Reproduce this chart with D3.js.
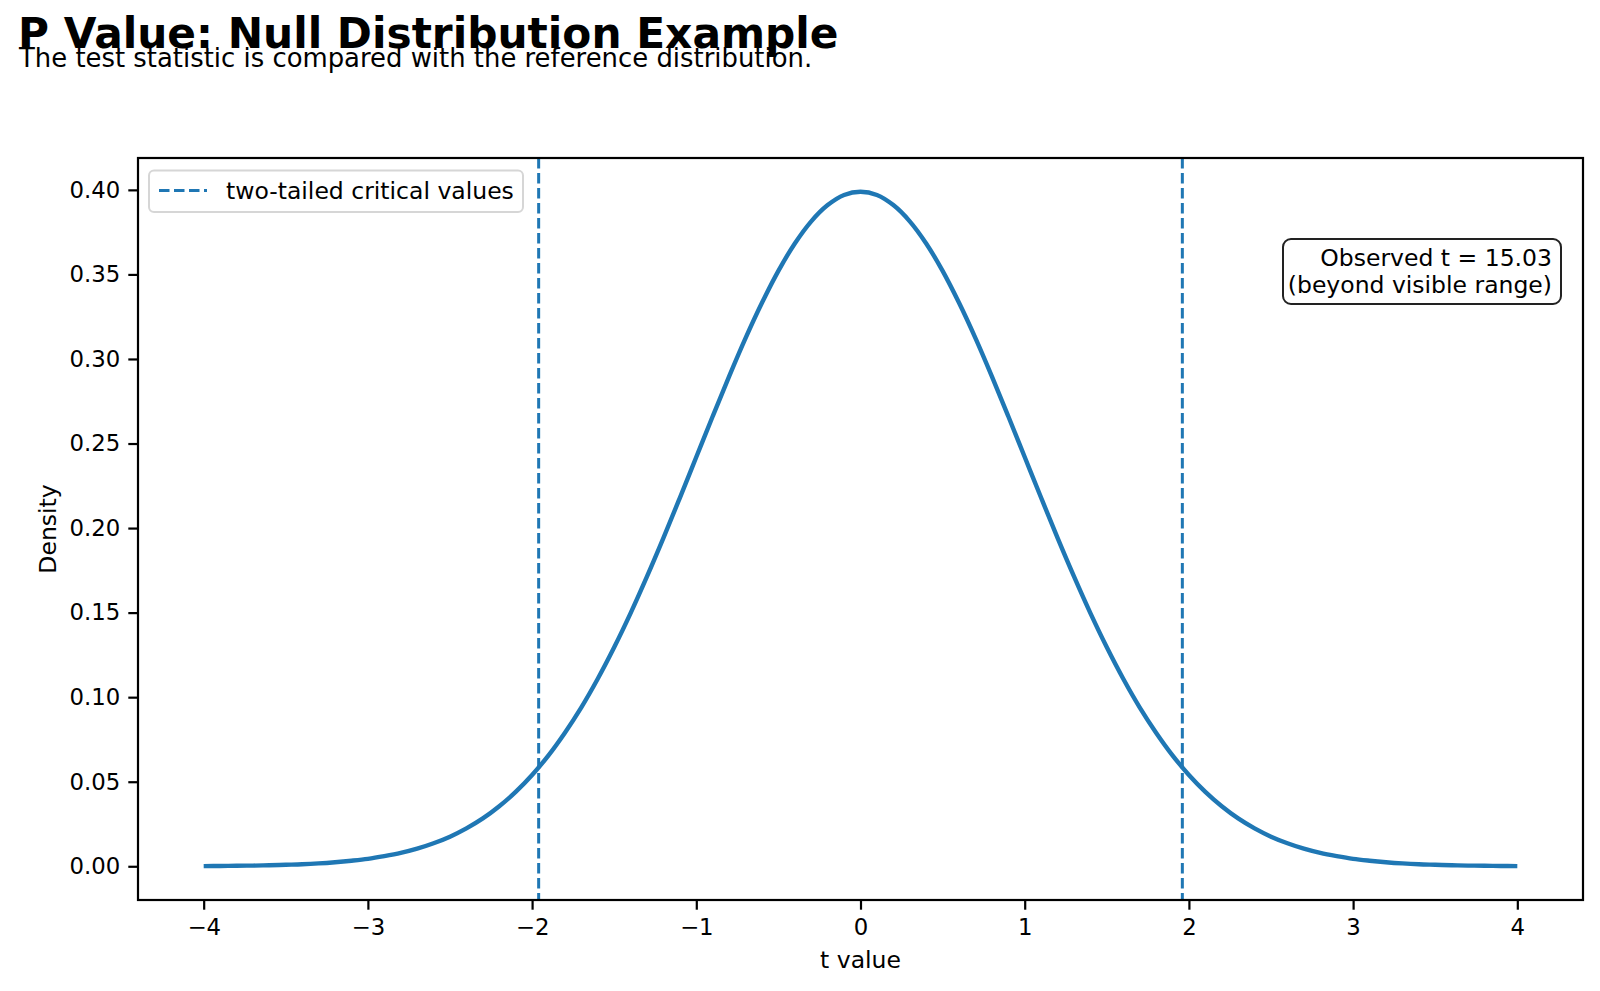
<!DOCTYPE html>
<html>
<head>
<meta charset="utf-8">
<script src="https://cdn.jsdelivr.net/npm/d3@7"></script>
<style>
  body { margin: 0; background: #fff; }
  text { font-family: "DejaVu Sans", sans-serif; fill: #000; }
</style>
</head>
<body>
<div class="chart"></div>
<script>
// t values along the x axis and the density read at each one
const tValues = [
  -4.0, -3.9, -3.8, -3.7, -3.6, -3.5, -3.4, -3.3, -3.2, -3.1,
  -3.0, -2.9, -2.8, -2.7, -2.6, -2.5, -2.4, -2.3, -2.2, -2.1,
  -2.0, -1.9, -1.8, -1.7, -1.6, -1.5, -1.4, -1.3, -1.2, -1.1,
  -1.0, -0.9, -0.8, -0.7, -0.6, -0.5, -0.4, -0.3, -0.2, -0.1,
  0.0, 0.1, 0.2, 0.3, 0.4, 0.5, 0.6, 0.7, 0.8, 0.9,
  1.0, 1.1, 1.2, 1.3, 1.4, 1.5, 1.6, 1.7, 1.8, 1.9,
  2.0, 2.1, 2.2, 2.3, 2.4, 2.5, 2.6, 2.7, 2.8, 2.9,
  3.0, 3.1, 3.2, 3.3, 3.4, 3.5, 3.6, 3.7, 3.8, 3.9, 4.0];
const densityValues = [
  0.0001, 0.0002, 0.0003, 0.0004, 0.0006, 0.0009, 0.0012, 0.0017, 0.0024, 0.0033,
  0.0044, 0.0060, 0.0079, 0.0104, 0.0136, 0.0175, 0.0224, 0.0283, 0.0355, 0.0440,
  0.0540, 0.0656, 0.0790, 0.0940, 0.1109, 0.1295, 0.1497, 0.1714, 0.1942, 0.2179,
  0.2420, 0.2661, 0.2897, 0.3123, 0.3332, 0.3521, 0.3683, 0.3814, 0.3910, 0.3970,
  0.3989, 0.3970, 0.3910, 0.3814, 0.3683, 0.3521, 0.3332, 0.3123, 0.2897, 0.2661,
  0.2420, 0.2179, 0.1942, 0.1714, 0.1497, 0.1295, 0.1109, 0.0940, 0.0790, 0.0656,
  0.0540, 0.0440, 0.0355, 0.0283, 0.0224, 0.0175, 0.0136, 0.0104, 0.0079, 0.0060,
  0.0044, 0.0033, 0.0024, 0.0017, 0.0012, 0.0009, 0.0006, 0.0004, 0.0003, 0.0002, 0.0001];
const criticalValues = [-1.96, 1.96];
const xTicks = [-4, -3, -2, -1, 0, 1, 2, 3, 4];
const yTicks = [0, 0.05, 0.10, 0.15, 0.20, 0.25, 0.30, 0.35, 0.40];
const observedLines = ["Observed t = 15.03", "(beyond visible range)"];
const legendLabel = "two-tailed critical values";

const curveData = tValues.map((t, i) => ({t: t, d: densityValues[i]}));

const svg_width = 1600;
const svg_height = 991;
const margin = {top: 158, right: 17, bottom: 91, left: 138};
const chart_width = svg_width - margin.left - margin.right;
const chart_height = svg_height - margin.top - margin.bottom;
const blue = '#1f77b4';
const tickSize = 22.8;
const labelSize = 23.5;

const svg = d3.select('.chart').append('svg')
  .attr('width', svg_width).attr('height', svg_height);

// title + subtitle
svg.append('text').attr('x', 18).attr('y', 48)
  .style('font-size', '42.3px').style('font-weight', 'bold')
  .text('P Value: Null Distribution Example');
svg.append('text').attr('x', 19).attr('y', 67)
  .style('font-size', '25.9px')
  .text('The test statistic is compared with the reference distribution.');

const g = svg.append('g').attr('transform', `translate(${margin.left},${margin.top})`);

// scales (matplotlib style 5% padding)
const xPad = (4 - (-4)) * 0.05;
const xScale = d3.scaleLinear().domain([-4 - xPad, 4 + xPad]).range([0, chart_width]);
const yMax = d3.max(densityValues);
const yPad = yMax * 0.05;
const yScale = d3.scaleLinear().domain([-yPad, yMax + yPad]).range([chart_height, 0]);

// curve
const line = d3.line().x(d => xScale(d.t)).y(d => yScale(d.d)).curve(d3.curveCatmullRom);
g.append('path').datum(curveData)
  .attr('d', line)
  .attr('fill', 'none').attr('stroke', blue).attr('stroke-width', 4.4)
  .attr('stroke-linecap', 'butt').attr('stroke-linejoin', 'round');

// critical value lines
g.selectAll('.crit').data(criticalValues).enter().append('line')
  .attr('class', 'crit')
  .attr('x1', d => xScale(d)).attr('x2', d => xScale(d))
  .attr('y1', 0).attr('y2', chart_height)
  .attr('stroke', blue).attr('stroke-width', 3)
  .attr('stroke-dasharray', '10.5,4.5');

// axes
const xAxis = d3.axisBottom(xScale).tickValues(xTicks)
  .tickFormat(d => d < 0 ? '\u2212' + Math.abs(d) : d)
  .tickSizeInner(9.7).tickSizeOuter(0).tickPadding(9);
const xAxisDraw = g.append('g').attr('transform', `translate(0,${chart_height})`).call(xAxis);
const yAxis = d3.axisLeft(yScale).tickValues(yTicks).tickFormat(d3.format('.2f'))
  .tickSizeInner(9.7).tickSizeOuter(0).tickPadding(8);
const yAxisDraw = g.append('g').call(yAxis);
[xAxisDraw, yAxisDraw].forEach(a => {
  a.select('.domain').remove();
  a.selectAll('line').attr('stroke', '#000').attr('stroke-width', 2.2);
  a.selectAll('text').style('font-size', tickSize + 'px').attr('fill', '#000')
    .style('font-family', '"DejaVu Sans", sans-serif');
});

// frame
g.append('rect').attr('width', chart_width).attr('height', chart_height)
  .attr('fill', 'none').attr('stroke', '#000').attr('stroke-width', 2.2);

// axis labels
svg.append('text').attr('x', margin.left + chart_width / 2).attr('y', 968)
  .attr('text-anchor', 'middle').style('font-size', labelSize + 'px').text('t value');
svg.append('text')
  .attr('transform', `translate(56,${margin.top + chart_height / 2}) rotate(-90)`)
  .attr('text-anchor', 'middle').style('font-size', labelSize + 'px').text('Density');

// legend
const legend = g.append('g').attr('transform', 'translate(11,12.5)');
legend.append('rect').attr('width', 374).attr('height', 41.5).attr('rx', 5)
  .attr('fill', 'rgba(255,255,255,0.8)').attr('stroke', '#d6d6d6').attr('stroke-width', 2);
legend.append('line').attr('x1', 10).attr('x2', 58).attr('y1', 20).attr('y2', 20)
  .attr('stroke', blue).attr('stroke-width', 3).attr('stroke-dasharray', '10.5,4.5');
legend.append('text').attr('x', 77).attr('y', 28.5)
  .style('font-size', labelSize + 'px').text(legendLabel);

// observed t annotation
const note = g.append('g').attr('transform', `translate(${1561 - margin.left},${239 - margin.top})`);
note.append('rect').attr('x', -278).attr('width', 278).attr('height', 65).attr('rx', 8)
  .attr('fill', '#fff').attr('stroke', '#222').attr('stroke-width', 2);
note.selectAll('.obs').data(observedLines).enter().append('text')
  .attr('class', 'obs')
  .attr('x', -9).attr('y', (d, i) => 26.5 + i * 27.6)
  .attr('text-anchor', 'end').style('font-size', labelSize + 'px')
  .text(d => d);
</script>
</body>
</html>
